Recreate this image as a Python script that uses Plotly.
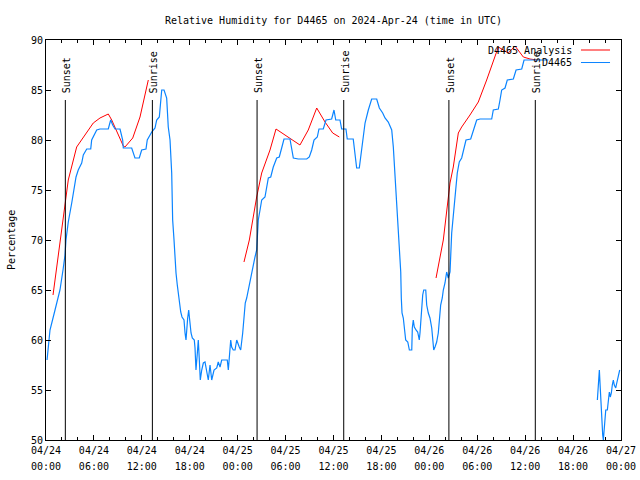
import plotly.graph_objects as go
import pandas as pd

BASE = pd.Timestamp("2024-04-24 00:00")

# ---- Data (hours since 2024-04-24 00:00 UTC, relative humidity %) ----
analysis_seg1 = [(0.88, 64.5), (2.38, 73.7), (2.79, 76.0), (3.84, 79.3), (4.47, 80.0), (5.92, 81.7),
                 (6.76, 82.2), (7.80, 82.6), (8.23, 82.0), (9.68, 79.4), (9.89, 79.3), (10.86, 80.2),
                 (11.77, 82.3), (12.81, 86.0)]
analysis_seg2 = [(24.79, 67.8), (25.46, 70.0), (26.38, 74.3), (27.01, 76.7), (28.05, 79.0), (28.80, 81.1),
                 (31.80, 79.5), (32.84, 81.0), (33.90, 83.2), (34.94, 81.8), (35.90, 80.7), (36.73, 80.3)]
analysis_seg3 = [(48.84, 66.2), (49.75, 70.0), (50.59, 75.7), (51.0, 77.3), (51.63, 80.7), (52.05, 81.3),
                 (53.09, 82.5), (54.13, 83.8), (55.18, 86.0), (56.64, 89.3), (57.89, 88.7), (58.73, 89.4),
                 (59.77, 88.3), (60.61, 88.1), (61.45, 88.0)]

obs_seg1 = [(0.13, 58), (0.5, 61), (1.13, 63), (1.75, 65), (2.13, 67), (2.38, 68.5), (2.50, 70), (2.79, 71.8),
            (3.22, 73.7), (3.76, 76.3), (4.04, 77), (4.47, 77.7), (4.67, 78.5), (5.10, 79.1), (5.60, 79.1),
            (5.72, 80), (6.35, 81), (6.76, 81.1), (7.80, 81.1), (8.10, 82), (8.35, 81.5), (8.64, 81.1),
            (9.27, 81.1), (9.60, 80), (9.68, 79.2), (10.73, 79.2), (11.14, 78.2), (11.68, 78.2), (11.98, 79),
            (12.52, 79.1), (12.68, 80), (13.24, 80.8), (13.65, 81.2), (13.86, 82), (14.19, 82.3), (14.49, 85),
            (14.78, 85), (15.11, 84.2), (15.31, 81.3), (15.53, 80), (15.74, 76.7), (15.86, 72), (16.03, 70),
            (16.15, 68.2), (16.28, 66.7), (16.44, 65.5), (16.57, 64.5), (16.69, 63.7), (16.87, 62.8),
            (17.03, 62.3), (17.28, 62), (17.41, 60.7), (17.53, 60), (17.74, 62.2), (17.87, 63), (17.94, 62.4),
            (18.03, 61.5), (18.16, 60.7), (18.32, 60.2), (18.57, 60), (18.66, 59.2), (18.78, 57), (18.95, 58.7),
            (19.07, 60), (19.20, 58), (19.32, 56), (19.50, 57), (19.70, 57.7), (19.91, 57.8), (20.12, 57),
            (20.32, 56), (20.54, 57.5), (20.75, 56), (21.04, 57), (21.38, 57.2), (21.57, 57.8), (21.79, 57.3),
            (22.0, 58), (22.70, 58), (22.83, 57), (22.95, 58.3), (23.13, 60), (23.25, 59.3), (23.45, 59),
            (23.67, 59), (23.88, 60), (24.20, 59.3), (24.38, 59), (24.63, 60.7), (24.79, 62.5), (24.95, 63.7),
            (25.13, 64.2), (25.33, 65), (25.54, 66), (25.76, 67), (25.96, 67.7), (26.17, 68.3), (26.38, 69),
            (26.46, 70.8), (26.58, 72), (26.80, 73), (27.01, 74), (27.42, 74.3), (27.63, 75.3), (27.84, 76.2),
            (28.14, 76.3), (28.46, 77.3), (28.89, 78.2), (29.21, 78.3), (29.51, 79.2), (29.80, 80.1),
            (30.55, 80.1), (30.97, 78.2), (31.59, 78.1), (32.65, 78.1), (32.97, 78.3), (33.27, 79), (33.56, 80),
            (33.97, 80.3), (34.18, 81.1), (34.72, 81.1), (35.06, 82), (35.77, 82.1), (36.06, 83), (36.28, 82),
            (36.81, 82), (37.02, 81.1), (37.56, 81.1), (37.72, 80.1), (38.47, 80.1), (38.69, 78.7),
            (38.90, 77.2), (39.23, 77.2), (39.41, 78.3), (39.66, 80), (39.95, 81.7), (40.36, 83), (40.78, 84.1),
            (41.41, 84.1), (41.74, 83.2), (42.16, 82.7), (42.45, 82.2), (42.86, 81.8), (43.29, 81),
            (43.49, 79.3), (43.70, 76.3), (43.92, 74.3), (44.04, 71.8), (44.20, 69.2), (44.42, 66.8),
            (44.49, 64.2), (44.58, 62.7), (44.74, 62.2), (44.92, 60.5), (45.04, 60), (45.30, 59.8), (45.50, 59),
            (45.80, 59), (45.87, 61.2), (45.99, 62), (46.12, 61.3), (46.33, 61), (46.54, 60.8), (46.67, 60.3),
            (46.74, 60), (46.83, 60.7), (46.92, 62.2), (47.08, 63.5), (47.17, 64.5), (47.30, 65), (47.55, 65),
            (47.67, 63.5), (47.87, 62.7), (48.08, 62.2), (48.30, 61.2), (48.42, 59.8), (48.55, 59),
            (48.71, 59.3), (48.92, 59.8), (49.12, 60.7), (49.25, 61.7), (49.42, 63.5), (49.62, 64.2),
            (49.75, 65), (49.96, 65.7), (50.17, 66.8), (50.37, 66.2), (50.59, 66.8), (50.80, 70.7), (51.0, 72.7),
            (51.30, 75), (51.50, 76.7), (51.75, 77.8), (52.05, 78.2), (52.25, 79), (52.59, 80), (53.18, 80.1),
            (53.51, 81), (53.93, 82), (54.35, 82.1), (55.81, 82.1), (56.01, 83), (56.64, 83.1), (56.85, 84),
            (57.06, 85), (57.48, 85.2), (57.76, 86), (58.52, 86.1), (58.86, 87), (59.57, 87.1), (59.86, 88),
            (62.90, 88)]
obs_seg2 = [(69.04, 54), (69.09, 54.7), (69.21, 56.2), (69.29, 57), (69.37, 55.7), (69.50, 53.2), (69.58, 51.5),
            (69.71, 50.5), (69.79, 50), (69.87, 50.8), (70.0, 52), (70.09, 53), (70.29, 53), (70.41, 54),
            (70.54, 54.8), (70.66, 54.3), (70.79, 54.7), (70.91, 55.5), (71.04, 56), (71.16, 55.5),
            (71.34, 55.2), (71.47, 55.7), (71.59, 56.2), (71.72, 56.7), (71.84, 57)]

sun_event_hours = [2.42, 13.32, 26.43, 37.28, 50.45, 61.27]
sun_event_labels = ["Sunset", "Sunrise", "Sunset", "Sunrise", "Sunset", "Sunrise"]
sun_line_top = 84

TITLE = "Relative Humidity for D4465 on 2024-Apr-24 (time in UTC)"
FONT = "DejaVu Sans Mono"
RED = "#ff0000"
BLUE = "#0a84ff"
X_RANGE = [BASE, BASE + pd.Timedelta(hours=72)]


def to_time(h):
    return BASE + pd.Timedelta(hours=h)


def join_segments(*segs):
    xs, ys = [], []
    for i, seg in enumerate(segs):
        if i:
            xs.append(None)
            ys.append(None)
        for h, v in seg:
            xs.append(to_time(h))
            ys.append(v)
    return xs, ys


ax, ay = join_segments(analysis_seg1, analysis_seg2, analysis_seg3)
ox, oy = join_segments(obs_seg1, obs_seg2)

fig = go.Figure()
fig.add_trace(go.Scatter(x=ax, y=ay, mode="lines", line=dict(color=RED, width=1),
                         connectgaps=False, showlegend=False, hoverinfo="skip"))
fig.add_trace(go.Scatter(x=ox, y=oy, mode="lines", line=dict(color=BLUE, width=1.2),
                         connectgaps=False, showlegend=False, hoverinfo="skip"))

# sunrise / sunset markers
lx, ly = [], []
for h in sun_event_hours:
    lx += [to_time(h), to_time(h), None]
    ly += [50, sun_line_top, None]
fig.add_trace(go.Scatter(x=lx, y=ly, mode="lines", line=dict(color="black", width=1),
                         showlegend=False, hoverinfo="skip"))

# empty trace so the second (time-of-day) label row exists
fig.add_trace(go.Scatter(x=[], y=[], xaxis="x2", yaxis="y", showlegend=False, hoverinfo="skip"))

annotations = []
for h, lab in zip(sun_event_hours, sun_event_labels):
    annotations.append(dict(x=to_time(h), y=sun_line_top, xref="x", yref="y", text=lab,
                            textangle=-90, showarrow=False, xanchor="center", yanchor="bottom",
                            yshift=5, xshift=1, font=dict(family=FONT, size=10, color="black")))

# y axis title
annotations.append(dict(x=-0.061, y=0.5, xref="paper", yref="paper", text="Percentage",
                        textangle=-90, showarrow=False, xanchor="center", yanchor="middle",
                        font=dict(family=FONT, size=10, color="black")))

# legend (gnuplot style: text on left, sample on right)
legend_items = [("D4465 Analysis", RED), ("D4465", BLUE)]
for i, (name, col) in enumerate(legend_items):
    yp = 0.975 - i * 0.0313
    annotations.append(dict(x=0.9183, y=yp, xref="paper", yref="paper", text=name, showarrow=False,
                            xanchor="right", yanchor="middle",
                            font=dict(family=FONT, size=10, color="black")))
    fig.add_shape(type="line", xref="paper", yref="paper", x0=0.9304, x1=0.9809, y0=yp, y1=yp,
                  line=dict(color=col, width=1))

fig.update_layout(
    width=640, height=480,
    margin=dict(l=46, r=19, t=40, b=40, autoexpand=False),
    paper_bgcolor="white", plot_bgcolor="white",
    font=dict(family=FONT, size=10, color="black"),
    title=dict(text=TITLE, x=0.5, xref="paper", xanchor="center",
               y=1 - 20 / 480, yref="container", yanchor="middle",
               font=dict(family=FONT, size=10, color="black")),
    annotations=annotations,
    showlegend=False,
    xaxis=dict(type="date", range=X_RANGE,
               tickmode="linear", tick0=BASE, dtick=6 * 3600 * 1000,
               tickformat="%m/%d", automargin=False, ticklabelstandoff=1,
               ticks="inside", ticklen=5, tickcolor="black", tickwidth=1,
               minor=dict(dtick=2 * 3600 * 1000, ticks="inside", ticklen=3, tickcolor="black"),
               showline=True, linecolor="black", linewidth=1, mirror="ticks",
               showgrid=False, zeroline=False, tickfont=dict(family=FONT, size=10)),
    xaxis2=dict(type="date", range=X_RANGE, overlaying="x", side="bottom", anchor="y",
                tickmode="linear", tick0=BASE, dtick=6 * 3600 * 1000,
                tickformat="%H:%M", automargin=False, ticklabelstandoff=19,
                ticks="", showline=False, showgrid=False, zeroline=False,
                tickfont=dict(family=FONT, size=10)),
    yaxis=dict(range=[50, 90], tickmode="linear", tick0=50, dtick=5, automargin=False,
               ticks="inside", ticklen=5, tickcolor="black", tickwidth=1,
               showline=True, linecolor="black", linewidth=1, mirror="ticks",
               showgrid=False, zeroline=False, tickfont=dict(family=FONT, size=10)),
)

fig.write_html("out.html")
